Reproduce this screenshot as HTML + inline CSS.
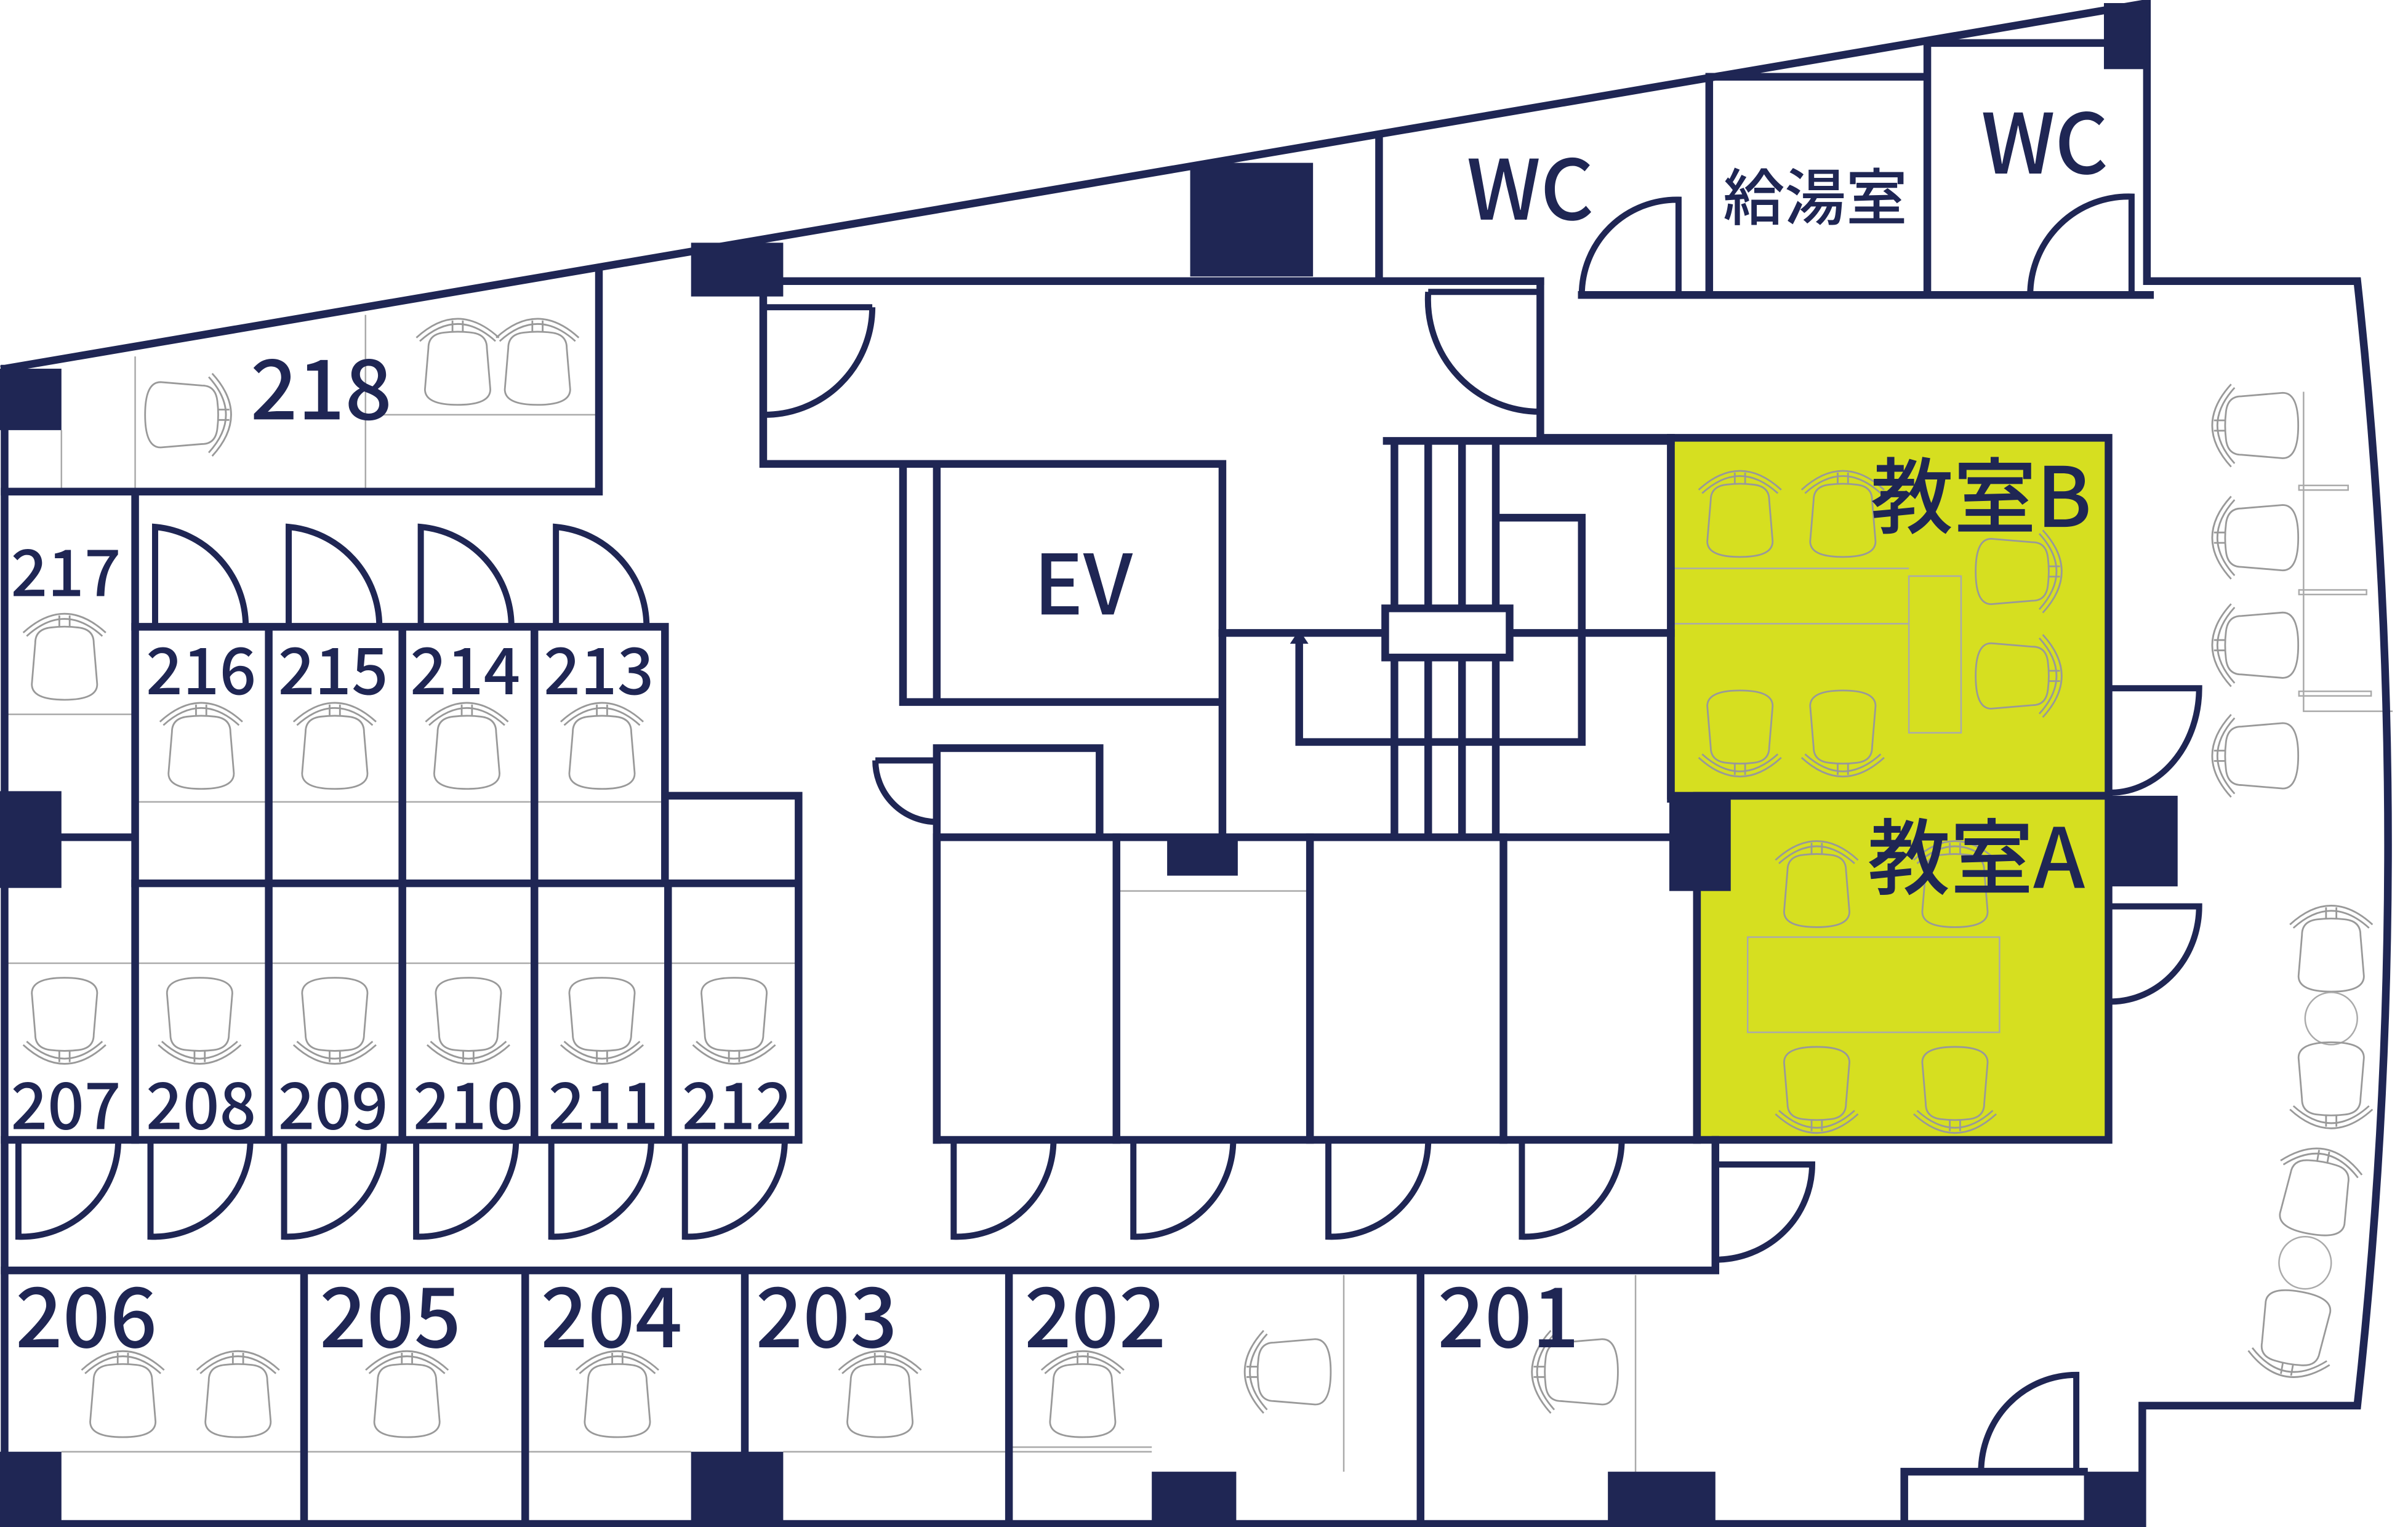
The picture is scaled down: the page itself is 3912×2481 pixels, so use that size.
<!DOCTYPE html>
<html><head><meta charset="utf-8"><style>
html,body{margin:0;padding:0;background:#fff}
svg{display:block}
text{font-family:"Noto Sans CJK JP","Liberation Sans",sans-serif;fill:#1f2654;font-weight:500}
</style></head><body>
<svg width="3912" height="2481" viewBox="0 0 1568 994" preserveAspectRatio="none" xmlns="http://www.w3.org/2000/svg">
<defs>
<g id="c0" fill="none" stroke="#999" stroke-width="1">
<path d="M-17,-12 Q-17,-20 -8,-21 Q0,-22 8,-21 Q17,-20 17,-12 L19,12 Q19,21 0,21 Q-19,21 -19,12 Z"/>
<path d="M-24,-18 Q0,-40 24,-18"/><path d="M-22,-16 Q0,-36 22,-16"/>
<path d="M-3,-28 V-21 M3,-28 V-21"/>
</g>
<g id="ch"><use href="#c0" transform="scale(1.12)"/></g>
</defs>
<rect width="1568" height="994" fill="#fff"/>
<rect x="1088" y="285" width="285" height="233" fill="#d6df20"/>
<rect x="1105" y="518" width="268" height="224" fill="#d6df20"/>
<g stroke="#aaa" stroke-width="1" fill="none">
<path d="M40,280V320 M88,232V320 M238,205V320 M238,270H390"/>
<path d="M3,465H88 M88,522H433 M3,627H520"/>
<path d="M40,945H450 M510,945H750 M657,942H750 M875,830V958 M1065,830V958"/>
<path d="M1090,370H1243 M1090,406H1243"/><rect x="1243" y="375" width="34" height="102"/>
<rect x="1138" y="610" width="164" height="62"/>
<path d="M1500,255V463H1558"/>
<rect x="1497" y="316" width="32" height="3"/><rect x="1497" y="384" width="44" height="3"/><rect x="1497" y="450" width="47" height="3"/>
<path d="M727,580H853"/>
</g>
<use href="#ch" transform="translate(118,270) rotate(90)"/>
<use href="#ch" transform="translate(298,240)"/><use href="#ch" transform="translate(350,240)"/>
<use href="#ch" transform="translate(42,432)"/>
<use href="#ch" transform="translate(131,490)"/><use href="#ch" transform="translate(218,490)"/><use href="#ch" transform="translate(304,490)"/><use href="#ch" transform="translate(392,490)"/>
<use href="#ch" transform="translate(42,660) rotate(180)"/><use href="#ch" transform="translate(130,660) rotate(180)"/><use href="#ch" transform="translate(218,660) rotate(180)"/><use href="#ch" transform="translate(305,660) rotate(180)"/><use href="#ch" transform="translate(392,660) rotate(180)"/><use href="#ch" transform="translate(478,660) rotate(180)"/>
<use href="#ch" transform="translate(80,912)"/><use href="#ch" transform="translate(155,912)"/><use href="#ch" transform="translate(265,912)"/><use href="#ch" transform="translate(402,912)"/><use href="#ch" transform="translate(573,912)"/><use href="#ch" transform="translate(705,912)"/>
<use href="#ch" transform="translate(843,893) rotate(-90)"/><use href="#ch" transform="translate(1030,893) rotate(-90)"/>
<use href="#ch" transform="translate(1133,339)"/><use href="#ch" transform="translate(1200,339)"/>
<use href="#ch" transform="translate(1133,473) rotate(180)"/><use href="#ch" transform="translate(1200,473) rotate(180)"/>
<use href="#ch" transform="translate(1310,372) rotate(90)"/><use href="#ch" transform="translate(1310,440) rotate(90)"/>
<use href="#ch" transform="translate(1183,580)"/><use href="#ch" transform="translate(1273,580)"/>
<use href="#ch" transform="translate(1183,705) rotate(180)"/><use href="#ch" transform="translate(1273,705) rotate(180)"/>
<use href="#ch" transform="translate(1473,277) rotate(-90)"/><use href="#ch" transform="translate(1473,350) rotate(-90)"/><use href="#ch" transform="translate(1473,420) rotate(-90)"/><use href="#ch" transform="translate(1473,492) rotate(-90)"/>
<use href="#ch" transform="translate(1518,622)"/><circle cx="1518" cy="663" r="17" fill="none" stroke="#aaa"/><use href="#ch" transform="translate(1518,702) rotate(180)"/>
<use href="#ch" transform="translate(1508,780) rotate(10)"/><circle cx="1501" cy="822" r="17" fill="none" stroke="#aaa"/><use href="#ch" transform="translate(1494,864) rotate(190)"/>
<g stroke="#1f2654" stroke-width="5" fill="none" stroke-linecap="square">
<path d="M3,240L1398,2V183H1535Q1575,550 1535,915H1395V992H3V240"/>
<path d="M390,176V320H3 M88,320V742 M3,545H88"/>
<path d="M88,408H433V575 M175,408V742 M262,408V742 M348,408V742 M433,518H520V742 M88,575H520 M3,742H520 M435,575V742"/>
<path d="M3,827H1117 M198,827V992 M342,827V992 M485,827V992 M657,827V992 M925,827V992 M1117,742V827"/>
<path d="M497,183H1003V285H1088 M497,183V302H796V545 M588,302V457H796 M610,302V457 M610,487H716V545 M610,487V742"/>
<rect x="610" y="545" width="495" height="197"/><path d="M727,545V742 M853,545V742 M979,545V742"/>
<path d="M796,412H1088 M903,287H1088 M908,287V545 M930,287V545 M952,287V545 M974,287V545"/>
<rect x="902" y="396" width="81" height="32" fill="#fff"/>
<path d="M975,337H1030V483H846V420"/>
<path d="M898,88V183 M855,183H1003 M1113,50V192 M1113,50H1255 M1255,28V192 M1255,28H1370 M1030,192H1400"/>
<rect x="1088" y="285" width="285" height="233"/><rect x="1105" y="518" width="268" height="224"/>
<path d="M1088,285V520"/>
<path d="M1240,958H1357 M1240,958V992"/>
</g>
<path d="M846,410l-6,9h12z" fill="#1f2654"/>
<g stroke="#1f2654" stroke-width="4" fill="none">
<path d="M101,408V343A65,65 0 0 1 160,408"/><path d="M188,408V343A65,65 0 0 1 247,408"/><path d="M274,408V343A65,65 0 0 1 333,408"/><path d="M362,408V343A65,65 0 0 1 421,408"/>
<path d="M12,742V805A63,63 0 0 0 77,742"/><path d="M98,742V805A63,63 0 0 0 163,742"/><path d="M185,742V805A63,63 0 0 0 250,742"/><path d="M271,742V805A63,63 0 0 0 336,742"/><path d="M359,742V805A63,63 0 0 0 424,742"/><path d="M446,742V805A63,63 0 0 0 511,742"/>
<path d="M621,742V805A63,63 0 0 0 686,742"/><path d="M738,742V805A63,63 0 0 0 803,742"/><path d="M865,742V805A63,63 0 0 0 930,742"/><path d="M991,742V805A63,63 0 0 0 1056,742"/>
<path d="M568,200H497V270A70,70 0 0 0 568,200"/>
<path d="M930,190H1003V268A73,73 0 0 1 930,190"/>
<path d="M570,495H610V535A40,40 0 0 1 570,495"/>
<path d="M1093,192V130A62,62 0 0 0 1030,192"/><path d="M1388,192V128A64,64 0 0 0 1322,192"/>
<path d="M1375,448H1432A58,68 0 0 1 1375,516"/><path d="M1375,590H1432A58,62 0 0 1 1375,652"/>
<path d="M1117,758H1180A63,62 0 0 1 1117,820"/>
<path d="M1352,958V895A62,63 0 0 0 1290,958"/>
</g>
<g fill="#1f2654">
<rect x="0" y="240" width="40" height="40"/><rect x="450" y="158" width="60" height="35"/><rect x="775" y="106" width="80" height="74"/><rect x="1370" y="2" width="28" height="43"/>
<rect x="0" y="515" width="40" height="63"/><rect x="1087" y="518" width="40" height="62"/><rect x="1373" y="518" width="45" height="59"/>
<rect x="0" y="945" width="40" height="49"/><rect x="450" y="945" width="60" height="49"/><rect x="750" y="958" width="55" height="36"/><rect x="1047" y="958" width="70" height="36"/><rect x="1357" y="958" width="40" height="36"/><rect x="760" y="545" width="46" height="25"/>
</g>
<text x="163" y="273" font-size="54">218</text>
<text x="7" y="388" font-size="42">217</text>
<text x="95" y="452" font-size="42">216</text><text x="181" y="452" font-size="42">215</text><text x="267" y="452" font-size="42">214</text><text x="354" y="452" font-size="42">213</text>
<text x="7" y="735" font-size="42">207</text><text x="95" y="735" font-size="42">208</text><text x="181" y="735" font-size="42">209</text><text x="269" y="735" font-size="42">210</text><text x="357" y="735" font-size="42">211</text><text x="444" y="735" font-size="42">212</text>
<text x="10" y="877" font-size="54">206</text><text x="208" y="877" font-size="54">205</text><text x="352" y="877" font-size="54">204</text><text x="492" y="877" font-size="54">203</text><text x="667" y="877" font-size="54">202</text><text x="936" y="877" font-size="54">201</text>
<text x="673" y="400" font-size="54">EV</text>
<text x="955" y="143" font-size="54">WC</text><text x="1122" y="143" font-size="40">給湯室</text><text x="1290" y="113" font-size="54">WC</text>
<text x="1218" y="343" font-size="54">教室B</text><text x="1216" y="578" font-size="54">教室A</text>
</svg>
</body></html>
